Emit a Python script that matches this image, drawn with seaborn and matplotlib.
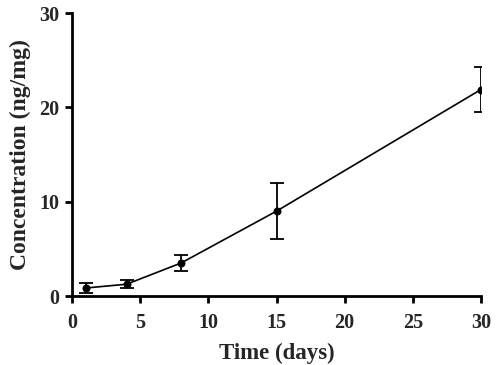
import numpy as np
import pandas as pd
import matplotlib
matplotlib.use("Agg")
import matplotlib.pyplot as plt
import seaborn as sns

days = [1, 4, 8, 15, 30]
conc = [0.85, 1.25, 3.5, 9.0, 21.9]
sd = [0.5, 0.45, 0.9, 3.0, 2.4]

sns.set_style("ticks")
plt.rcParams['font.family'] = ['Liberation Serif', 'DejaVu Serif']
plt.rcParams['font.weight'] = 'bold'

df = pd.DataFrame({'Time': days, 'Conc': conc, 'SD': sd})

fig, ax = plt.subplots(figsize=(5.0, 3.65), dpi=100)
fig.subplots_adjust(left=0.144, right=0.962, bottom=0.189, top=0.964)

ax.errorbar(df['Time'], df['Conc'], yerr=df['SD'], fmt='none', ecolor='black',
            elinewidth=1.3, capsize=5, capthick=1.3, zorder=2)
sns.lineplot(data=df, x='Time', y='Conc', ax=ax, color='black', linewidth=1.2,
             marker='o', markersize=5, markeredgecolor='black', zorder=3)

ax.set_xlim(0, 30)
ax.set_ylim(0, 30)
ax.set_xticks([0, 5, 10, 15, 20, 25, 30])
ax.set_yticks([0, 10, 20, 30])
ax.set_xlabel('Time (days)', fontsize=16.5, fontweight='bold', labelpad=7)
ax.set_ylabel('Concentration (ng/mg)', fontsize=17, fontweight='bold', labelpad=6)
ax.tick_params(labelsize=14.5, width=2, length=5, color='black', pad=4)
ax.tick_params(axis='x', pad=7)
for lbl in ax.get_xticklabels() + ax.get_yticklabels():
    lbl.set_fontweight('bold')
sns.despine(ax=ax)
for s in ['left', 'bottom']:
    ax.spines[s].set_linewidth(2)
    ax.spines[s].set_color('black')

plt.savefig('out.png', dpi=100)
